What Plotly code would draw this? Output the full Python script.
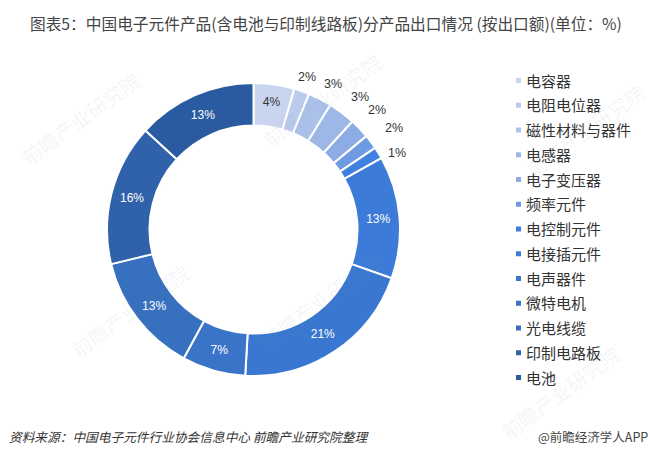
import plotly.graph_objects as go

categories = ["电容器", "电阻电位器", "磁性材料与器件", "电感器", "电子变压器", "频率元件", "电控制元件",
              "电接插元件", "电声器件", "微特电机", "光电线缆", "印制电路板", "电池"]
values = [4.5, 1.7, 2.6, 3.0, 2.2, 1.6, 1.3, 13.5, 20.5, 7.0, 13.3, 15.6, 13.2]
slice_labels = ["4%", "", "", "", "", "", "", "13%", "21%", "7%", "13%", "16%", "13%"]
label_colors = ["#333333"] * 7 + ["#ffffff"] * 6
colors = ["#C9D5EE", "#BACBEC", "#ABC1EA", "#9DB7E7", "#8DACE5", "#6F9BE2", "#3F80E0",
          "#3C7CD8", "#3A77D0", "#3A74C8", "#3670BE", "#2F62AA", "#2A5BA0"]
# the small slices carry their labels outside the ring
outer_labels = ["2%", "3%", "3%", "2%", "2%", "1%"]

CJK = "Noto Sans CJK SC, sans-serif"
LATIN = "Liberation Sans, Arial, sans-serif"
W, H = 650, 456

fig = go.Figure(
    go.Pie(
        labels=categories,
        values=values,
        text=slice_labels,
        textinfo="text",
        textposition="inside",
        insidetextorientation="horizontal",
        textfont={"family": LATIN, "size": 12},
        insidetextfont={"color": label_colors},
        hole=0.71,
        sort=False,
        direction="clockwise",
        rotation=0,
        marker={"colors": colors, "line": {"color": "white", "width": 2}},
        domain={"x": [107 / W, 400 / W], "y": [1 - 376 / H, 1 - 83 / H]},
        showlegend=False,
    )
)

fig.update_layout(
    width=W,
    height=H,
    margin={"l": 0, "r": 0, "t": 0, "b": 0},
    paper_bgcolor="white",
    font={"family": CJK, "color": "#333333"},
)


def note(text, x, y, size=14, color="#333333", anchor="left", angle=0, family=CJK):
    fig.add_annotation(
        text=text, x=x / W, y=1 - y / H, xref="paper", yref="paper", xanchor=anchor, yanchor="middle",
        showarrow=False, textangle=angle, font={"size": size, "color": color, "family": family},
    )


# faint company watermarks
for wx, wy in [(322, 100), (80, 118), (130, 310), (320, 300), (585, 130), (560, 392)]:
    note("前瞻产业研究院", wx, wy, size=20, color="rgba(120,130,150,0.09)", anchor="center", angle=-36)

note("图表5：中国电子元件产品(含电池与印制线路板)分产品出口情况 (按出口额)(单位：%)", 326, 24, size=15.7, anchor="center", color="#444444")

for text, (lx, ly) in zip(outer_labels, [(307, 77), (333, 84), (360, 97), (377, 110), (394, 128), (397, 153)]):
    note(text, lx, ly, size=12.5, anchor="center", family=LATIN)

# legend is drawn by hand, plotly cannot space the rows this far apart
for i, (name, color) in enumerate(zip(categories, colors)):
    row_y = 80 + i * 24.75
    fig.add_shape(type="rect", xref="paper", yref="paper", x0=516 / W, x1=521 / W,
                  y0=1 - (row_y + 3) / H, y1=1 - (row_y - 2) / H, fillcolor=color, line_width=0)
    note(name, 524, row_y, size=15)

note("<i>资料来源：中国电子元件行业协会信息中心 前瞻产业研究院整理</i>", 7, 436, size=12.7, color="#333333")
note("@前瞻经济学人APP", 650, 436, size=12.5, anchor="right", color="#444444")

fig.write_html("out.html", config={"displayModeBar": False}, post_script="document.body.style.margin='0';")
